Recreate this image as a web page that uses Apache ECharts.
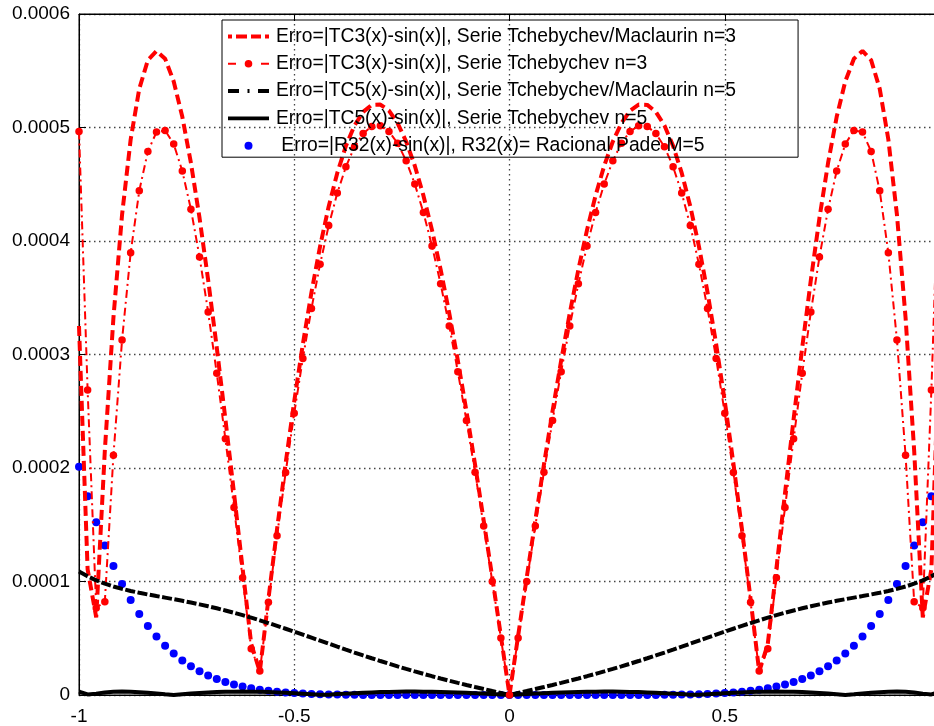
<!DOCTYPE html>
<html>
<head>
<meta charset="utf-8">
<script src="https://cdn.jsdelivr.net/npm/echarts@6/dist/echarts.min.js"></script>
<style>
  html, body { margin: 0; padding: 0; background: #fff; }
  #chart { width: 934px; height: 726px; }
</style>
</head>
<body>
<div id="chart"></div>
<script>
// Sample points x in [-1, 1], step 0.02
const xs = [
  -1, -0.98, -0.96, -0.94, -0.92, -0.9, -0.88, -0.86, -0.84, -0.82,
  -0.8, -0.78, -0.76, -0.74, -0.72, -0.7, -0.68, -0.66, -0.64, -0.62,
  -0.6, -0.58, -0.56, -0.54, -0.52, -0.5, -0.48, -0.46, -0.44, -0.42,
  -0.4, -0.38, -0.36, -0.34, -0.32, -0.3, -0.28, -0.26, -0.24, -0.22,
  -0.2, -0.18, -0.16, -0.14, -0.12, -0.1, -0.08, -0.06, -0.04, -0.02,
  0,
  0.02, 0.04, 0.06, 0.08, 0.1, 0.12, 0.14, 0.16, 0.18, 0.2,
  0.22, 0.24, 0.26, 0.28, 0.3, 0.32, 0.34, 0.36, 0.38, 0.4,
  0.42, 0.44, 0.46, 0.48, 0.5, 0.52, 0.54, 0.56, 0.58, 0.6,
  0.62, 0.64, 0.66, 0.68, 0.7, 0.72, 0.74, 0.76, 0.78, 0.8,
  0.82, 0.84, 0.86, 0.88, 0.9, 0.92, 0.94, 0.96, 0.98, 1
];

// |TC3(x) - sin(x)|, Tchebychev/Maclaurin n=3
const errTC3Maclaurin = [
  325.15e-6, 110.73e-6, 68.41e-6, 215.23e-6, 332.53e-6, 423.08e-6, 489.45e-6, 534.10e-6, 559.38e-6, 567.50e-6,
  560.57e-6, 540.59e-6, 509.39e-6, 468.75e-6, 420.33e-6, 365.65e-6, 306.23e-6, 243.21e-6, 177.95e-6, 111.55e-6,
  45.05e-6, 20.59e-6, 84.51e-6, 145.98e-6, 204.29e-6, 258.87e-6, 309.18e-6, 354.77e-6, 395.30e-6, 430.45e-6,
  460.01e-6, 483.80e-6, 501.73e-6, 513.76e-6, 519.89e-6, 520.21e-6, 514.81e-6, 503.88e-6, 487.63e-6, 466.30e-6,
  440.17e-6, 409.57e-6, 374.88e-6, 336.45e-6, 294.71e-6, 250.08e-6, 203.03e-6, 154.00e-6, 103.50e-6, 52.00e-6,
  0,
  52.00e-6, 103.50e-6, 154.00e-6, 203.03e-6, 250.08e-6, 294.71e-6, 336.45e-6, 374.88e-6, 409.57e-6, 440.17e-6,
  466.30e-6, 487.63e-6, 503.88e-6, 514.81e-6, 520.21e-6, 519.89e-6, 513.76e-6, 501.73e-6, 483.80e-6, 460.01e-6,
  430.45e-6, 395.30e-6, 354.77e-6, 309.18e-6, 258.87e-6, 204.29e-6, 145.98e-6, 84.51e-6, 20.59e-6, 45.05e-6,
  111.55e-6, 177.95e-6, 243.21e-6, 306.23e-6, 365.65e-6, 420.33e-6, 468.75e-6, 509.39e-6, 540.59e-6, 560.57e-6,
  567.50e-6, 559.38e-6, 534.10e-6, 489.45e-6, 423.08e-6, 332.53e-6, 215.23e-6, 68.41e-6, 110.73e-6, 325.15e-6
];

// |TC3(x) - sin(x)|, Tchebychev n=3
const errTC3Cheb = [
  496.52e-6, 268.69e-6, 76.76e-6, 82.24e-6, 211.17e-6, 312.77e-6, 389.63e-6, 444.24e-6, 478.95e-6, 495.98e-6,
  497.46e-6, 485.37e-6, 461.60e-6, 427.93e-6, 386.00e-6, 337.38e-6, 283.50e-6, 225.72e-6, 165.26e-6, 103.28e-6,
  40.82e-6, 21.16e-6, 81.78e-6, 140.30e-6, 195.99e-6, 248.26e-6, 296.57e-6, 340.47e-6, 379.59e-6, 413.59e-6,
  442.27e-6, 465.43e-6, 482.96e-6, 494.80e-6, 500.96e-6, 501.50e-6, 496.52e-6, 486.18e-6, 470.66e-6, 450.21e-6,
  425.12e-6, 395.68e-6, 362.24e-6, 325.18e-6, 284.89e-6, 241.79e-6, 196.32e-6, 148.93e-6, 100.09e-6, 50.29e-6,
  0,
  50.29e-6, 100.09e-6, 148.93e-6, 196.32e-6, 241.79e-6, 284.89e-6, 325.18e-6, 362.24e-6, 395.68e-6, 425.12e-6,
  450.21e-6, 470.66e-6, 486.18e-6, 496.52e-6, 501.50e-6, 500.96e-6, 494.80e-6, 482.96e-6, 465.43e-6, 442.27e-6,
  413.59e-6, 379.59e-6, 340.47e-6, 296.57e-6, 248.26e-6, 195.99e-6, 140.30e-6, 81.78e-6, 21.16e-6, 40.82e-6,
  103.28e-6, 165.26e-6, 225.72e-6, 283.50e-6, 337.38e-6, 386.00e-6, 427.93e-6, 461.60e-6, 485.37e-6, 497.46e-6,
  495.98e-6, 478.95e-6, 444.24e-6, 389.63e-6, 312.77e-6, 211.17e-6, 82.24e-6, 76.76e-6, 268.69e-6, 496.52e-6
];

// |TC5(x) - sin(x)|, Tchebychev/Maclaurin n=5
const errTC5Maclaurin = [
  108.85e-6, 104.56e-6, 101.01e-6, 98.06e-6, 95.59e-6, 93.49e-6, 91.67e-6, 90.06e-6, 88.58e-6, 87.17e-6,
  85.80e-6, 84.41e-6, 82.97e-6, 81.47e-6, 79.87e-6, 78.18e-6, 76.39e-6, 74.48e-6, 72.46e-6, 70.34e-6,
  68.11e-6, 65.79e-6, 63.39e-6, 60.92e-6, 58.38e-6, 55.80e-6, 53.18e-6, 50.54e-6, 47.89e-6, 45.24e-6,
  42.60e-6, 39.99e-6, 37.41e-6, 34.86e-6, 32.37e-6, 29.93e-6, 27.55e-6, 25.22e-6, 22.97e-6, 20.77e-6,
  18.64e-6, 16.57e-6, 14.56e-6, 12.61e-6, 10.71e-6, 8.85e-6, 7.03e-6, 5.25e-6, 3.48e-6, 1.74e-6,
  0,
  1.74e-6, 3.48e-6, 5.25e-6, 7.03e-6, 8.85e-6, 10.71e-6, 12.61e-6, 14.56e-6, 16.57e-6, 18.64e-6,
  20.77e-6, 22.97e-6, 25.22e-6, 27.55e-6, 29.93e-6, 32.37e-6, 34.86e-6, 37.41e-6, 39.99e-6, 42.60e-6,
  45.24e-6, 47.89e-6, 50.54e-6, 53.18e-6, 55.80e-6, 58.38e-6, 60.92e-6, 63.39e-6, 65.79e-6, 68.11e-6,
  70.34e-6, 72.46e-6, 74.48e-6, 76.39e-6, 78.18e-6, 79.87e-6, 81.47e-6, 82.97e-6, 84.41e-6, 85.80e-6,
  87.17e-6, 88.58e-6, 90.06e-6, 91.67e-6, 93.49e-6, 95.59e-6, 98.06e-6, 101.01e-6, 104.56e-6, 108.85e-6
];

// |TC5(x) - sin(x)|, Tchebychev n=5
const errTC5Cheb = [
  2.99e-6, 0.50e-6, 1.21e-6, 2.29e-6, 2.85e-6, 3.00e-6, 2.85e-6, 2.47e-6, 1.93e-6, 1.30e-6,
  0.62e-6, 0.06e-6, 0.71e-6, 1.31e-6, 1.83e-6, 2.27e-6, 2.60e-6, 2.84e-6, 2.97e-6, 3.00e-6,
  2.94e-6, 2.79e-6, 2.56e-6, 2.26e-6, 1.90e-6, 1.50e-6, 1.07e-6, 0.61e-6, 0.14e-6, 0.32e-6,
  0.78e-6, 1.21e-6, 1.61e-6, 1.97e-6, 2.28e-6, 2.54e-6, 2.75e-6, 2.90e-6, 2.98e-6, 3.00e-6,
  2.97e-6, 2.87e-6, 2.71e-6, 2.50e-6, 2.24e-6, 1.94e-6, 1.60e-6, 1.23e-6, 0.83e-6, 0.42e-6,
  0,
  0.42e-6, 0.83e-6, 1.23e-6, 1.60e-6, 1.94e-6, 2.24e-6, 2.50e-6, 2.71e-6, 2.87e-6, 2.97e-6,
  3.00e-6, 2.98e-6, 2.90e-6, 2.75e-6, 2.54e-6, 2.28e-6, 1.97e-6, 1.61e-6, 1.21e-6, 0.78e-6,
  0.32e-6, 0.14e-6, 0.61e-6, 1.07e-6, 1.50e-6, 1.90e-6, 2.26e-6, 2.56e-6, 2.79e-6, 2.94e-6,
  3.00e-6, 2.97e-6, 2.84e-6, 2.60e-6, 2.27e-6, 1.83e-6, 1.31e-6, 0.71e-6, 0.06e-6, 0.62e-6,
  1.30e-6, 1.93e-6, 2.47e-6, 2.85e-6, 3.00e-6, 2.85e-6, 2.29e-6, 1.21e-6, 0.50e-6, 2.99e-6
];

// |R32(x) - sin(x)|, rational Pade approximant
const errPadeR32 = [
  201.14e-6, 175.18e-6, 152.11e-6, 131.67e-6, 113.61e-6, 97.69e-6, 83.71e-6, 71.47e-6, 60.79e-6, 51.49e-6,
  43.43e-6, 36.46e-6, 30.48e-6, 25.35e-6, 20.98e-6, 17.26e-6, 14.12e-6, 11.49e-6, 9.28e-6, 7.45e-6,
  5.93e-6, 4.69e-6, 3.67e-6, 2.85e-6, 2.19e-6, 1.67e-6, 1.26e-6, 0.94e-6, 0.69e-6, 0.50e-6,
  0.35e-6, 0.25e-6, 0.17e-6, 0.11e-6, 0.08e-6, 0.05e-6, 0.03e-6, 0.02e-6, 0.01e-6, 0.01e-6,
  0, 0, 0, 0, 0, 0, 0, 0, 0, 0,
  0,
  0, 0, 0, 0, 0, 0, 0, 0, 0, 0,
  0.01e-6, 0.01e-6, 0.02e-6, 0.03e-6, 0.05e-6, 0.08e-6, 0.11e-6, 0.17e-6, 0.25e-6, 0.35e-6,
  0.50e-6, 0.69e-6, 0.94e-6, 1.26e-6, 1.67e-6, 2.19e-6, 2.85e-6, 3.67e-6, 4.69e-6, 5.93e-6,
  7.45e-6, 9.28e-6, 11.49e-6, 14.12e-6, 17.26e-6, 20.98e-6, 25.35e-6, 30.48e-6, 36.46e-6, 43.43e-6,
  51.49e-6, 60.79e-6, 71.47e-6, 83.71e-6, 97.69e-6, 113.61e-6, 131.67e-6, 152.11e-6, 175.18e-6, 201.14e-6
];

const seriesNames = [
  'Erro=|TC3(x)-sin(x)|, Serie Tchebychev/Maclaurin n=3',
  'Erro=|TC3(x)-sin(x)|, Serie Tchebychev n=3',
  'Erro=|TC5(x)-sin(x)|, Serie Tchebychev/Maclaurin n=5',
  'Erro=|TC5(x)-sin(x)|, Serie Tchebychev n=5',
  ' Erro=|R32(x)-sin(x)|, R32(x)= Racional Pade M=5'
];

const xTickLabels = ['-1', '-0.5', '0', '0.5', '1'];
const yTickLabels = ['0', '0.0001', '0.0002', '0.0003', '0.0004', '0.0005', '0.0006'];

const FONT = '"Liberation Sans", Arial, Helvetica, sans-serif';
const RED = '#ff0000';
const BLUE = '#0000ff';
const BLACK = '#000000';

const pairs = ys => xs.map((x, i) => [x, ys[i]]);

// Legend glyphs: dashed, dash-dot with marker, dash-dot, solid, dot
const legendIcons = [
  'path://M0,2h4v4h-4z M8,2h11v4h-11z M23,2h10v4h-10z M37,2h4v4h-4z',
  'path://M0,3h8v2h-8z M16.7,4a3.8,3.8 0 1,0 7.6,0a3.8,3.8 0 1,0 -7.6,0z M33,3h8v2h-8z',
  'path://M0,2h11v4h-11z M19.5,2h2v4h-2z M30,2h11v4h-11z',
  'path://M0,2.2h41v3.6h-41z',
  'circle'
];

const gridDots = { color: '#444', width: 1.3, type: [1.5, 3.5] };

const chart = echarts.init(document.getElementById('chart'), null, { renderer: 'canvas' });

chart.setOption({
  animation: false,
  backgroundColor: '#ffffff',
  grid: {
    left: 79, right: -6, top: 14, bottom: 31,
    outerBoundsMode: 'none', containLabel: false,
    show: true, borderColor: BLACK, borderWidth: 1, backgroundColor: 'transparent'
  },
  xAxis: [{
    type: 'value', min: -1, max: 1, interval: 0.5,
    axisLine: { show: true, onZero: false, lineStyle: { color: BLACK, width: 1 } },
    axisTick: { show: true, inside: true, length: 7, lineStyle: { color: BLACK } },
    axisLabel: {
      color: BLACK, fontSize: 19, fontFamily: FONT, margin: 12,
      formatter: v => xTickLabels[Math.round((v + 1) / 0.5)]
    },
    splitLine: { show: true, lineStyle: gridDots }
  }, {
    type: 'value', position: 'top', min: -1, max: 1, interval: 0.5,
    axisLine: { show: true, onZero: false, lineStyle: { color: BLACK, width: 1 } },
    axisTick: { show: true, inside: true, length: 7, lineStyle: { color: BLACK } },
    axisLabel: { show: false },
    splitLine: { show: false }
  }],
  yAxis: {
    type: 'value', min: 0, max: 0.0006, interval: 0.0001,
    axisLine: { show: true, onZero: false, lineStyle: { color: BLACK, width: 1 } },
    axisTick: { show: true, inside: true, length: 7, lineStyle: { color: BLACK } },
    axisLabel: {
      color: BLACK, fontSize: 19, fontFamily: FONT, margin: 9, padding: [8, 0, 0, 0],
      formatter: v => yTickLabels[Math.round(v / 0.0001)]
    },
    splitLine: { show: true, lineStyle: gridDots }
  },
  legend: {
    orient: 'vertical',
    left: 222, top: 20,
    padding: [7, 62, 2, 6],
    itemWidth: 41, itemHeight: 8, itemGap: 8.3,
    borderColor: BLACK, borderWidth: 1,
    selectedMode: false,
    itemStyle: { borderWidth: 0 },
    textStyle: { color: BLACK, fontSize: 19.3, fontFamily: FONT, lineHeight: 19, padding: [0, 0, 0, 2] },
    data: seriesNames.map((name, i) => ({ name, icon: legendIcons[i] }))
  },
  series: [
    {
      name: seriesNames[0], type: 'line', data: pairs(errTC3Maclaurin),
      symbol: 'none', color: RED,
      lineStyle: { color: RED, width: 4, type: [10, 5] }
    },
    {
      name: seriesNames[1], type: 'line', data: pairs(errTC3Cheb),
      symbol: 'circle', symbolSize: 7.5, showAllSymbol: true, color: RED,
      itemStyle: { color: RED },
      lineStyle: { color: RED, width: 2, type: [8, 4, 2, 4] }
    },
    {
      name: seriesNames[2], type: 'line', data: pairs(errTC5Maclaurin),
      symbol: 'none', color: BLACK,
      lineStyle: { color: BLACK, width: 4, type: [10, 2.5] }
    },
    {
      name: seriesNames[3], type: 'line', data: pairs(errTC5Cheb),
      symbol: 'none', color: BLACK,
      lineStyle: { color: BLACK, width: 4 }
    },
    {
      name: seriesNames[4], type: 'scatter', data: pairs(errPadeR32),
      symbol: 'circle', symbolSize: 8, color: BLUE,
      itemStyle: { color: BLUE, opacity: 1 }
    }
  ]
});
</script>
</body>
</html>
